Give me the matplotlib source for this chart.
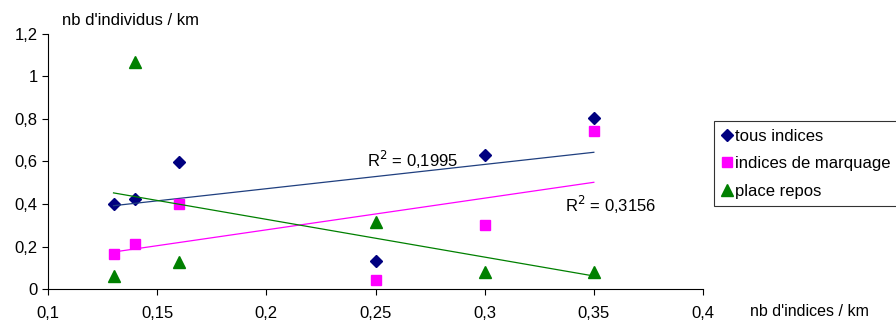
import numpy as np
import matplotlib.pyplot as plt

plt.rcParams['font.family'] = ['Liberation Sans', 'DejaVu Sans']

# Données
x = [0.13, 0.14, 0.16, 0.25, 0.30, 0.35]
tous = [0.398, 0.422, 0.595, 0.132, 0.628, 0.802]
marquage = [0.165, 0.213, 0.40, 0.041, 0.30, 0.744]
repos = [0.061, 1.068, 0.128, 0.316, 0.081, 0.081]

labels = ["tous indices", "indices de marquage", "place repos"]
# R2 affichés sur le graphique (None = pas affiché)
r2_txt = ["0,1995", "0,3156", None]

series = [
    (tous, "#000080", "D", 6.5, "#1F3F7F"),
    (marquage, "#FF00FF", "s", 7, "#FF00FF"),
    (repos, "#008000", "^", 8.5, "#008000"),
]
r2_pos = [(0.246, 0.606), (0.337, 0.395), None]

fig = plt.figure(figsize=(8.96, 3.23), dpi=100)
ax = fig.add_axes([0.0536, 0.105, 0.731, 0.791])

xa = np.array(x)
for i, (y, col, mk, ms, lcol) in enumerate(series):
    ya = np.array(y)
    ax.plot(xa, ya, linestyle='none', marker=mk, markersize=ms,
            color=col, label=labels[i])
    # droite de tendance
    a, b = np.polyfit(xa, ya, 1)
    xs = np.array([xa.min(), xa.max()])
    ax.plot(xs, a * xs + b, color=lcol, linewidth=0.9)
    if r2_txt[i] is not None:
        px, py = r2_pos[i]
        ax.text(px, py, "R$^2$ = " + r2_txt[i], fontsize=12, va='center', ha='left')

ax.set_xlim(0.1, 0.4)
ax.set_ylim(0, 1.2)
xt = [0.1, 0.15, 0.2, 0.25, 0.3, 0.35, 0.4]
yt = [0, 0.2, 0.4, 0.6, 0.8, 1.0, 1.2]
ax.set_xticks(xt)
ax.set_xticklabels(['0,1', '0,15', '0,2', '0,25', '0,3', '0,35', '0,4'])
ax.set_yticks(yt)
ax.set_yticklabels(['0', '0,2', '0,4', '0,6', '0,8', '1', '1,2'])
ax.tick_params(labelsize=12, width=0.8, direction='out')
ax.tick_params(axis='x', length=4, pad=8)
ax.tick_params(axis='y', length=4.5, pad=3)
for s in ['top', 'right']:
    ax.spines[s].set_visible(False)

fig.text(0.069, 0.935, "nb d'individus / km", fontsize=12, va='center')
fig.text(0.837, 0.035, "nb d'indices / km", fontsize=11.5, va='center')

leg = ax.legend(loc='upper left', bbox_to_anchor=(0.797, 0.625),
                bbox_transform=fig.transFigure, fontsize=12, frameon=True,
                fancybox=False, edgecolor='black', handlelength=0.6,
                handletextpad=0.2, borderpad=0.45, labelspacing=0.75,
                borderaxespad=0)
leg.get_frame().set_linewidth(0.8)

fig.savefig('out.png', dpi=100)
